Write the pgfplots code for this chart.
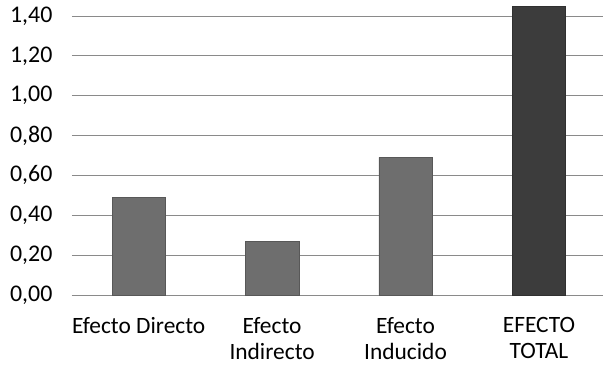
\documentclass[border=0pt]{standalone}
\usepackage{pgfplots}
\pgfplotsset{compat=1.18}
\usepackage{fontspec}
\setmainfont{Carlito}
\definecolor{barA}{HTML}{6E6E6E}
\definecolor{barB}{HTML}{3C3C3C}
\definecolor{gridc}{HTML}{8A8A8A}
\begin{document}
\begin{tikzpicture}
\begin{axis}[
  at={(0,0)}, anchor=south west,
  scale only axis,
  width=531bp, height=295bp,
  xmin=-0.5, xmax=3.48,
  ymin=0, ymax=1.48,
  axis x line=bottom,
  axis y line=left,
  y axis line style={draw=none},
  x axis line style={gridc, line width=0.8pt, -},
  ytick={0,0.2,0.4,0.6,0.8,1.0,1.2,1.4},
  yticklabels={{0,00},{0,20},{0,40},{0,60},{0,80},{1,00},{1,20},{1,40}},
  ymajorgrids,
  grid style={gridc, line width=0.8pt},
  major y tick style={draw=none},
  xtick={0,1,2,3},
  xticklabels={Efecto Directo, Efecto\\Indirecto, Efecto\\Inducido, EFECTO\\TOTAL},
  x tick label style={align=center, font=\fontsize{23.5}{25.5}\selectfont, text depth=0pt},
  y tick label style={font=\fontsize{24}{25}\selectfont},
  major x tick style={draw=none},
  extra x ticks={-0.5,0.5,1.5,2.5},
  extra x tick labels={},
  extra x tick style={major tick length=5pt, tick align=outside, tick style={gridc, line width=0.8pt}},
  xticklabel style={yshift=-17pt},
  yticklabel style={xshift=-14pt},
  clip=true,
  /pgf/number format/assume math mode=true,
]
\addplot[ybar, bar width=0.4, fill=barA, draw=barA!80!black] coordinates {(0,0.49) (1,0.27) (2,0.69)};
\addplot[ybar, bar width=0.4, fill=barB, draw=barB!80!black] coordinates {(3,1.45)};
\end{axis}
\pgfresetboundingbox
\path[use as bounding box] (-72bp,-70bp) rectangle (531bp,295bp);
\end{tikzpicture}
\end{document}
